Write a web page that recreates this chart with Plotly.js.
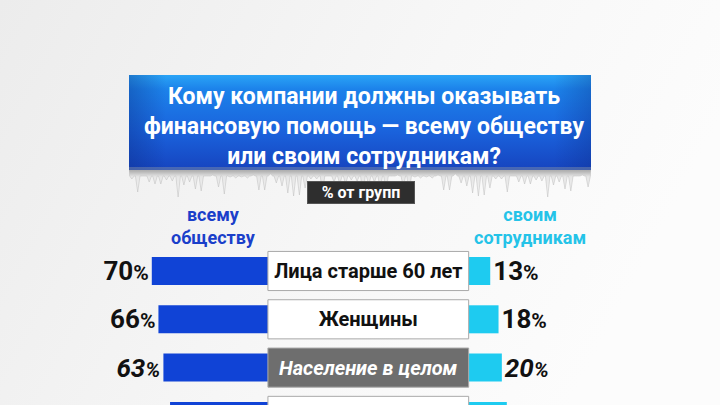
<!DOCTYPE html>
<html>
<head>
<meta charset="utf-8">
<script src="https://cdn.plot.ly/plotly-3.0.1.min.js"></script>
<style>
  html, body { margin: 0; padding: 0; background: #f3f3f3; }
  #chart { width: 720px; height: 405px; }
</style>
</head>
<body>
<div id="chart"></div>
<script>
// values (last row is cut off at the bottom edge)
const categories = ['Лица старше 60 лет', 'Женщины', 'Население в целом', ''];
const societyShare = [70, 66, 63, 59];
const employeeShare = [13, 18, 20, 23];
const highlightRow = 2;

const titleLines = ['Кому компании должны оказывать', 'финансовую помощь — всему обществу', 'или своим сотрудникам?'];
const leftHeader = ['всему', 'обществу'];
const rightHeader = ['своим', 'сотрудникам'];
const subtitle = '% от групп';

const W = 720, H = 405;
const labelGap = 121; // width of the centre label box, in % units
const FONT = "Roboto, 'Liberation Sans', sans-serif";
const BLUE = '#1043d6', CYAN = '#1ecbf0';

const px = x => x / W;
const py = y => 1 - y / H;
const rows = categories.map((c, i) => i);

const pct = (v, i) => {
  const s = '<b>' + v + '<span style="font-size:21px">%</span></b>';
  return i === highlightRow ? '<i>' + s + '</i>' : s;
};

function svgUri(svg) {
  return 'data:image/svg+xml;utf8,' + encodeURIComponent(svg);
}

function backgroundSvg() {
  return `<svg xmlns="http://www.w3.org/2000/svg" width="${W}" height="${H}">
    <defs><linearGradient id="g" x1="0" y1="0" x2="1" y2="0.3">
      <stop offset="0" stop-color="#ececec"/><stop offset="0.6" stop-color="#f7f7f7"/><stop offset="1" stop-color="#fcfcfc"/>
    </linearGradient></defs>
    <rect width="${W}" height="${H}" fill="url(#g)"/></svg>`;
}

function panelSvg() {
  const w = 462, h = 125, b = 95;
  const lens = [9, 20, 5, 14, 26, 7, 12, 22, 4, 17, 10, 25, 8, 19, 6, 13, 24, 11, 18, 5, 21, 12, 16, 7, 27, 9, 20, 6, 14, 23, 8, 15];
  const n = 80, step = w / n;
  let pts = [`0,${b}`];
  for (let i = 0; i < n; i++) {
    const l = lens[(i * 7) % lens.length];
    const x0 = i * step;
    pts.push(`${(x0 + step * 0.1).toFixed(1)},${b + 6}`, `${(x0 + step * 0.5).toFixed(1)},${b + l}`, `${(x0 + step * 0.9).toFixed(1)},${b + 6}`);
  }
  pts.push(`${w},${b}`);
  return `<svg xmlns="http://www.w3.org/2000/svg" width="${w}" height="${h}">
    <defs>
      <linearGradient id="bg" x1="0" y1="0" x2="0" y2="1">
        <stop offset="0" stop-color="#2aa4f6"/><stop offset="0.15" stop-color="#1c82ea"/>
        <stop offset="0.6" stop-color="#1a62dc"/><stop offset="1" stop-color="#1644bf"/>
      </linearGradient>
      <linearGradient id="side" x1="0" y1="0" x2="1" y2="0">
        <stop offset="0" stop-color="#0a2a80" stop-opacity="0.35"/><stop offset="0.08" stop-color="#0a2a80" stop-opacity="0"/>
        <stop offset="0.92" stop-color="#0a2a80" stop-opacity="0"/><stop offset="1" stop-color="#0a2a80" stop-opacity="0.3"/>
      </linearGradient>
      <linearGradient id="ice" x1="0" y1="0" x2="0" y2="1">
        <stop offset="0" stop-color="#a8a8a8"/><stop offset="0.25" stop-color="#e6e6e6"/><stop offset="1" stop-color="#f6f6f6"/>
      </linearGradient>
    </defs>
    <polygon points="${pts.join(' ')}" fill="url(#ice)" stroke="#bdbdbd" stroke-width="0.5"/>
    <rect x="0" y="0" width="${w}" height="${b}" fill="url(#bg)"/>
    <rect x="0" y="0" width="${w}" height="${b}" fill="url(#side)"/>
    <rect x="0" y="${b - 3}" width="${w}" height="3" fill="#7a8aa8" opacity="0.5"/>
  </svg>`;
}

const society = {
  type: 'bar', orientation: 'h', y: rows,
  x: societyShare.map(v => -v), base: -labelGap / 2,
  width: 0.58, marker: { color: BLUE },
  text: societyShare.map(pct), textposition: 'outside',
  textfont: { family: FONT, size: 26, color: '#111' },
  constraintext: 'none', cliponaxis: false, hoverinfo: 'skip'
};

const employees = {
  type: 'bar', orientation: 'h', y: rows,
  x: employeeShare, base: labelGap / 2,
  width: 0.58, marker: { color: CYAN },
  text: employeeShare.map(pct), textposition: 'outside',
  textfont: { family: FONT, size: 26, color: '#111' },
  constraintext: 'none', cliponaxis: false, hoverinfo: 'skip'
};

const labels = {
  type: 'bar', orientation: 'h', y: rows,
  x: rows.map(() => labelGap), base: -labelGap / 2,
  width: 0.81,
  marker: {
    color: rows.map(i => i === highlightRow ? '#6e6e6e' : '#ffffff'),
    line: { color: '#a9a9a9', width: 1 }
  },
  text: categories.map((c, i) => i === highlightRow ? '<b><i>' + c + '</i></b>' : '<b>' + c + '</b>'),
  textposition: 'inside', insidetextanchor: 'middle', textangle: 0,
  insidetextfont: { family: FONT, size: 20, color: rows.map(i => i === highlightRow ? '#ffffff' : '#111111') },
  constraintext: 'none', hoverinfo: 'skip'
};

const annotations = [
  {
    text: '<b>' + titleLines.join('<br>') + '</b>', xref: 'paper', yref: 'paper',
    x: px(364), y: py(127), xanchor: 'center', yanchor: 'middle',
    showarrow: false, font: { family: FONT, size: 23, color: '#ffffff' }
  },
  {
    text: '<b>' + leftHeader.join('<br>') + '</b>', xref: 'paper', yref: 'paper',
    x: px(213), y: py(226), xanchor: 'center', yanchor: 'middle',
    showarrow: false, font: { family: FONT, size: 18, color: '#1a3fca' }
  },
  {
    text: '<b>' + rightHeader.join('<br>') + '</b>', xref: 'paper', yref: 'paper',
    x: px(530), y: py(226), xanchor: 'center', yanchor: 'middle',
    showarrow: false, font: { family: FONT, size: 18, color: '#24c3e8' }
  },
  {
    text: '<b>' + subtitle + '</b>', xref: 'paper', yref: 'paper',
    x: px(361), y: py(192.5), xanchor: 'center', yanchor: 'middle',
    showarrow: false, font: { family: FONT, size: 16, color: '#ffffff' },
    bgcolor: '#2e2e2e', bordercolor: '#555', borderwidth: 1,
    width: 104, height: 19, borderpad: 1
  }
];

const rowPx = 48.3, firstRowPx = 271;
const yTop = -firstRowPx / rowPx;

const layout = {
  width: W, height: H,
  margin: { l: 0, r: 0, t: 0, b: 0 },
  paper_bgcolor: '#f3f3f3', plot_bgcolor: 'rgba(0,0,0,0)',
  barmode: 'overlay', showlegend: false,
  xaxis: { range: [-222, 212], visible: false, fixedrange: true },
  yaxis: { range: [yTop + H / rowPx, yTop], visible: false, fixedrange: true },
  images: [
    { source: svgUri(backgroundSvg()), xref: 'paper', yref: 'paper', x: 0, y: 1, sizex: 1, sizey: 1,
      sizing: 'stretch', xanchor: 'left', yanchor: 'top', layer: 'below' },
    { source: svgUri(panelSvg()), xref: 'paper', yref: 'paper', x: px(129), y: py(75), sizex: 462 / W, sizey: 125 / H,
      sizing: 'stretch', xanchor: 'left', yanchor: 'top', layer: 'below' }
  ],
  annotations: annotations
};

Plotly.newPlot('chart', [society, employees, labels], layout, { displayModeBar: false, staticPlot: true });
</script>
</body>
</html>
